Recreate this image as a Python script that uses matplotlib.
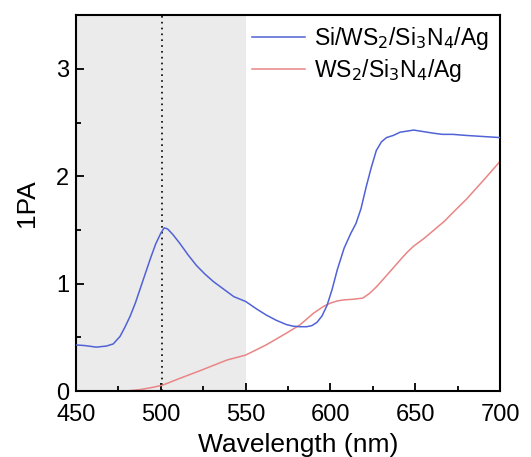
import numpy as np
import matplotlib.pyplot as plt
from matplotlib.ticker import MultipleLocator

plt.rcParams["font.family"] = ["Liberation Sans", "DejaVu Sans"]

# Si/WS2/Si3N4/Ag
blue_wl = [450, 455, 462, 468, 472, 476, 479, 482, 485, 488, 491, 494, 497, 500,
           502, 504, 507, 511, 516, 521, 526, 531, 537, 543, 550, 556, 562, 568,
           574, 578, 582, 586, 589, 592, 595, 598, 601, 604, 608, 612, 615, 618,
           621, 624, 627, 630, 633, 637, 641, 645, 649, 653, 657, 661, 666, 672,
           680, 690, 700]
blue_val = [0.43, 0.425, 0.41, 0.42, 0.44, 0.51, 0.60, 0.70, 0.82, 0.96, 1.10,
            1.24, 1.37, 1.47, 1.52, 1.51, 1.46, 1.38, 1.27, 1.17, 1.09, 1.02,
            0.95, 0.88, 0.835, 0.77, 0.71, 0.66, 0.62, 0.605, 0.60, 0.60, 0.61,
            0.64, 0.70, 0.80, 0.95, 1.13, 1.33, 1.47, 1.56, 1.70, 1.90, 2.08,
            2.24, 2.32, 2.36, 2.38, 2.41, 2.42, 2.43, 2.42, 2.41, 2.40, 2.39,
            2.39, 2.38, 2.37, 2.36]

# WS2/Si3N4/Ag
red_wl = [450, 465, 478, 488, 495, 501, 511, 523, 539, 550, 562, 574, 582, 590,
          596, 600, 604, 608, 613, 619, 623, 627, 631, 636, 641, 645, 649, 655,
          661, 667, 672, 680, 690, 700]
red_val = [0.0, 0.0, 0.0, 0.015, 0.035, 0.056, 0.118, 0.19, 0.29, 0.336, 0.43,
           0.54, 0.617, 0.726, 0.79, 0.82, 0.84, 0.85, 0.855, 0.866, 0.91, 0.97,
           1.04, 1.13, 1.22, 1.29, 1.35, 1.42, 1.50, 1.58, 1.66, 1.785, 1.96,
           2.14]

shade_range = (450, 550)
peak_wl = 501

fig, ax = plt.subplots(figsize=(5.31, 4.57), dpi=100)
fig.subplots_adjust(left=0.143, right=0.942, top=0.967, bottom=0.144)

ax.axvspan(*shade_range, color="#ebebeb", lw=0, zorder=0)
ax.axvline(peak_wl, color="black", ls=(0, (1, 2.5)), lw=1.2, zorder=1)
ax.plot(blue_wl, blue_val, color="#5062d6", lw=1.1,
        label=r"Si/WS$_2$/Si$_3$N$_4$/Ag", zorder=3)
ax.plot(red_wl, red_val, color="#ea8585", lw=1.1,
        label=r"WS$_2$/Si$_3$N$_4$/Ag", zorder=2)

ax.set_xlim(450, 700)
ax.set_ylim(0, 3.5)
ax.set_xticks([450, 500, 550, 600, 650, 700])
ax.set_yticks([0, 1, 2, 3])
ax.xaxis.set_minor_locator(MultipleLocator(25))
ax.yaxis.set_minor_locator(MultipleLocator(0.5))
ax.tick_params(which="both", direction="in", labelsize=17, width=1.3)
ax.tick_params(which="major", length=6)
ax.tick_params(which="minor", length=3.5)
ax.tick_params(axis="x", pad=9)
ax.tick_params(axis="y", pad=5)
for sp in ax.spines.values():
    sp.set_linewidth(1.5)

ax.set_xlabel("Wavelength (nm)", fontsize=19)
ax.xaxis.set_label_coords(0.524, -0.11)
ax.set_ylabel("1PA", fontsize=19, labelpad=12)

ax.legend(loc="upper right", frameon=False, fontsize=16.5, handlelength=2.3,
          handletextpad=0.4, labelspacing=0.22, borderaxespad=0.1,
          bbox_to_anchor=(1.0, 1.005))

fig.savefig("out.png", dpi=100)
